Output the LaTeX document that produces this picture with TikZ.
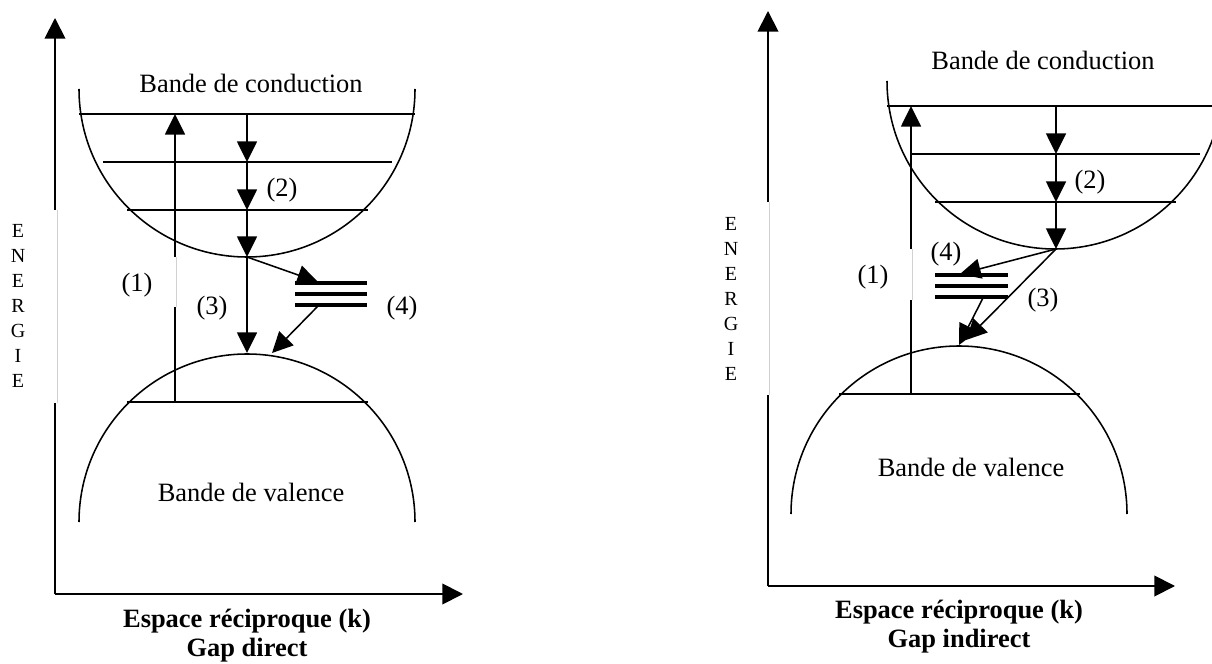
\documentclass[tikz,border=0pt]{standalone}
\usepackage{fontspec}
\setmainfont{Liberation Serif}
\usetikzlibrary{arrows.meta}
\begin{document}
\begin{tikzpicture}[x=0.45pt,y=-0.45pt,
  ln/.style={line width=0.7pt},
  axis/.style={line width=0.85pt,-{Triangle[length=9.3pt,width=9.3pt]}},
  arr/.style={line width=0.7pt,-{Triangle[length=9.3pt,width=9pt]}},
  trap/.style={line width=1.45pt},
  ghost/.style={line width=0.3pt,black!18},
  lbl/.style={font=\fontsize{11.9}{14}\selectfont,inner sep=0pt},
  ttl/.style={font=\fontsize{11.9}{13}\selectfont\bfseries,inner sep=0pt,align=center},
  vert/.style={font=\fontsize{9}{11.25}\selectfont,inner sep=0pt,align=center}]
\useasboundingbox (0,0) rectangle (1212,664);
\clip (0,0) rectangle (1212,664);

% ================= LEFT: gap direct =================
\coordinate (LO) at (55,594);
\coordinate (LYt) at (55,18);
\coordinate (LYa) at (55,210);
\coordinate (LYb) at (55,403);
\coordinate (LXt) at (463,594);
\draw[line width=0.85pt] (LO) -- (LYb);
\draw[axis] (LYa) -- (LYt);
\draw[axis] (LO) -- (LXt);
\draw[ghost] (57,210) -- (57,403);

% conduction band
\draw[ln] (79,89) arc[start angle=180,end angle=360,radius=75.6pt];
\coordinate (LC1a) at (79,114);  \coordinate (LC1b) at (415,114);
\coordinate (LC2a) at (103,162); \coordinate (LC2b) at (392,162);
\coordinate (LC3a) at (127,210); \coordinate (LC3b) at (368,210);
\draw[ln] (LC1a) -- (LC1b);
\draw[ln] (LC2a) -- (LC2b);
\draw[ln] (LC3a) -- (LC3b);
% valence band
\draw[ln] (79,522) arc[start angle=180,end angle=0,radius=75.6pt];
\coordinate (LVa) at (127,402); \coordinate (LVb) at (368,402);
\draw[ln] (LVa) -- (LVb);

% transitions
\coordinate (L1s) at (175,402);
\coordinate (L1g) at (175,307);
\coordinate (L1h) at (175,257);
\coordinate (L1e) at (175,114);
\draw[ln] (L1s) -- (L1g);
\draw[ghost] (176,257) -- (176,307);
\draw[arr] (L1h) -- (L1e);
\coordinate (L2a) at (247,114);
\coordinate (L2b) at (247,162);
\coordinate (L2c) at (247,210);
\coordinate (LCmin) at (247,257);
\coordinate (LVmax) at (247,353);
\draw[arr] (L2a) -- (L2b);
\draw[arr] (L2b) -- (L2c);
\draw[arr] (L2c) -- (LCmin);
\draw[arr] (LCmin) -- (LVmax);
% traps
\coordinate (LT1a) at (295,283); \coordinate (LT1b) at (367,283);
\coordinate (LT2a) at (295,294); \coordinate (LT2b) at (367,294);
\coordinate (LT3a) at (295,305); \coordinate (LT3b) at (367,305);
\draw[trap] (LT1a) -- (LT1b);
\draw[trap] (LT2a) -- (LT2b);
\draw[trap] (LT3a) -- (LT3b);
\coordinate (L4e) at (318,282);
\coordinate (L4s) at (319,305);
\coordinate (L4t) at (272,353);
\draw[arr] (LCmin) -- (L4e);
\draw[arr] (L4s) -- (L4t);

% labels
\node[lbl] (Lcond) at (251,83) {Bande de conduction};
\node[lbl] (Lval) at (251,492) {Bande de valence};
\node[lbl] (L1) at (137,285) {(1)};
\node[lbl] (L2) at (282,190) {(2)};
\node[lbl] (L3) at (212,308) {(3)};
\node[lbl] (L4) at (402,308) {(4)};
\node[vert] (Lenerg) at (18,306) {E\\N\\E\\R\\G\\I\\E};
\node[ttl] (Ltitle) at (247,636) {Espace réciproque (k)\\Gap direct};

% ================= RIGHT: gap indirect =================
\coordinate (RO) at (768,586);
\coordinate (RYt) at (768,11);
\coordinate (RYa) at (768,202);
\coordinate (RYb) at (768,395);
\coordinate (RXt) at (1175,586);
\draw[line width=0.85pt] (RO) -- (RYb);
\draw[axis] (RYa) -- (RYt);
\draw[axis] (RO) -- (RXt);
\draw[ghost] (769,202) -- (769,395);

% conduction band
\draw[ln] (887,81) arc[start angle=180,end angle=360,radius=75.6pt];
\coordinate (RC1a) at (887,106);  \coordinate (RC1b) at (1215,106);
\coordinate (RC2a) at (912,154); \coordinate (RC2b) at (1200,154);
\coordinate (RC3a) at (935,202); \coordinate (RC3b) at (1176,202);
\draw[ln] (RC1a) -- (RC1b);
\draw[ln] (RC2a) -- (RC2b);
\draw[ln] (RC3a) -- (RC3b);
% valence band
\draw[ln] (791,514) arc[start angle=180,end angle=0,radius=75.6pt];
\coordinate (RVa) at (839,394); \coordinate (RVb) at (1080,394);
\draw[ln] (RVa) -- (RVb);

% transitions
\coordinate (R1s) at (911,394);
\coordinate (R1g) at (911,300);
\coordinate (R1h) at (911,249);
\coordinate (R1e) at (911,106);
\draw[ln] (R1s) -- (R1g);
\draw[ghost] (912,249) -- (912,300);
\draw[arr] (R1h) -- (R1e);
\coordinate (R2a) at (1056,106);
\coordinate (R2b) at (1056,154);
\coordinate (R2c) at (1056,202);
\coordinate (RCmin) at (1056,249);
\draw[arr] (R2a) -- (R2b);
\draw[arr] (R2b) -- (R2c);
\draw[arr] (R2c) -- (RCmin);
% traps
\coordinate (RT1a) at (935,275); \coordinate (RT1b) at (1008,275);
\coordinate (RT2a) at (935,286); \coordinate (RT2b) at (1008,286);
\coordinate (RT3a) at (935,297); \coordinate (RT3b) at (1008,297);
\draw[trap] (RT1a) -- (RT1b);
\draw[trap] (RT2a) -- (RT2b);
\draw[trap] (RT3a) -- (RT3b);
\coordinate (R4e) at (960,274);
\coordinate (R4s) at (983,298);
\coordinate (R4t) at (959,345);
\coordinate (R3t) at (966,340);
\draw[arr] (RCmin) -- (R4e);
\draw[arr] (R4s) -- (R4t);
\draw[arr] (RCmin) -- (R3t);

% labels
\node[lbl] (Rcond) at (1043,60) {Bande de conduction};
\node[lbl] (Rval) at (971,467) {Bande de valence};
\node[lbl] (R1) at (873,277) {(1)};
\node[lbl] (R2) at (1090,182) {(2)};
\node[lbl] (R3) at (1043,300) {(3)};
\node[lbl] (R4) at (946,254) {(4)};
\node[vert] (Renerg) at (731,299) {E\\N\\E\\R\\G\\I\\E};
\node[ttl] (Rtitle) at (959,627) {Espace réciproque (k)\\Gap indirect};
\end{tikzpicture}
\end{document}
